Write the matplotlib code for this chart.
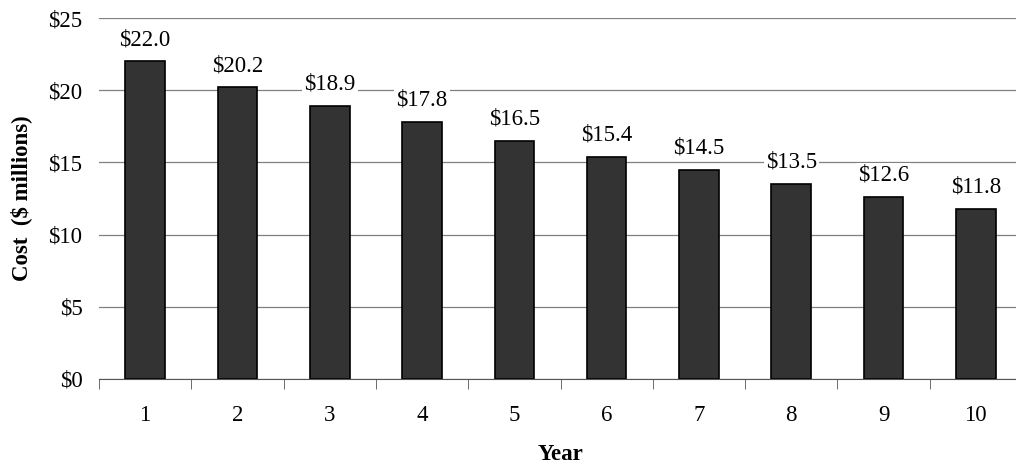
import matplotlib.pyplot as plt
import numpy as np

years = ['1', '2', '3', '4', '5', '6', '7', '8', '9', '10']
cost = [22.0, 20.2, 18.9, 17.8, 16.5, 15.4, 14.5, 13.5, 12.6, 11.8]
yticks = [0, 5, 10, 15, 20, 25]

plt.rcParams['font.family'] = ['Liberation Serif', 'DejaVu Serif']
fs = 16.5

fig = plt.figure(figsize=(10.16, 4.70), dpi=100)
ax = fig.add_axes([99 / 1016, 1 - 379 / 470, 923 / 1016, 361 / 470])

x = np.arange(len(years))
bars = ax.bar(x, cost, width=0.43, color='#333333', edgecolor='black', linewidth=1.2, zorder=3)

ax.set_xlim(-0.5, len(years) - 0.5)
ax.set_ylim(0, 25)
ax.set_yticks(yticks)
ax.set_yticklabels(['$%d' % v for v in yticks], fontsize=fs)
ax.set_xticks(x)
ax.set_xticklabels(years, fontsize=fs)
ax.set_xticks(np.arange(-0.5, len(years), 1), minor=True)
ax.tick_params(axis='x', which='major', length=0, pad=19)
ax.tick_params(axis='x', which='minor', length=7, color='#555555', direction='out')
ax.tick_params(axis='y', length=0, pad=12)

ax.grid(axis='y', color='#808080', linewidth=0.9, zorder=0)
for s in ['top', 'right', 'left']:
    ax.spines[s].set_visible(False)
ax.spines['bottom'].set_color('#555555')
ax.spines['bottom'].set_zorder(4)

for xi, v in zip(x, cost):
    ax.annotate('$%.1f' % v, (xi, v), xytext=(0, 8), textcoords='offset points',
                ha='center', va='bottom', fontsize=fs, zorder=5,
                bbox=dict(facecolor='white', edgecolor='none', pad=1.5))

ax.set_xlabel('Year', fontsize=fs, fontweight='bold', labelpad=13)
ax.set_ylabel('Cost  ($ millions)', fontsize=fs, fontweight='bold', labelpad=12)

fig.savefig('out.png', dpi=100)
